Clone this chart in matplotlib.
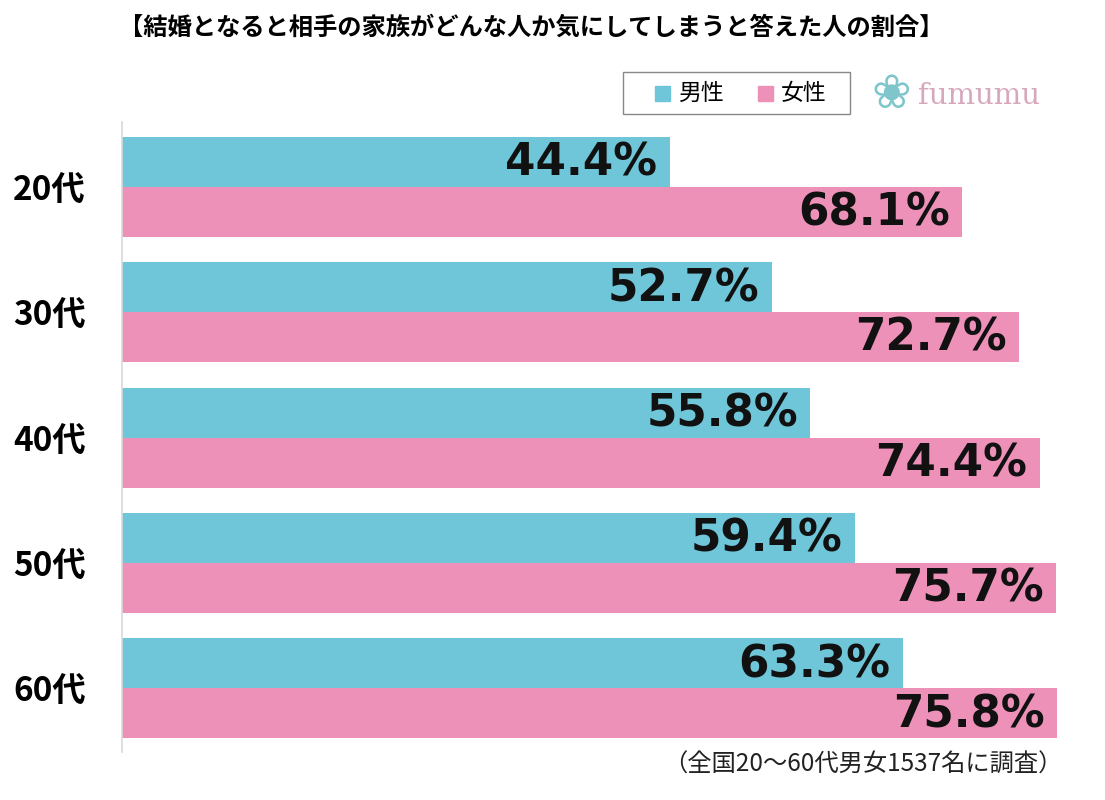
import numpy as np
import matplotlib.pyplot as plt
from matplotlib.patches import Rectangle

plt.rcParams['font.family'] = ['Noto Sans CJK JP', 'DejaVu Sans']

# データ
ages = ["20代", "30代", "40代", "50代", "60代"]
male = [44.4, 52.7, 55.8, 59.4, 63.3]
female = [68.1, 72.7, 74.4, 75.7, 75.8]
series_names = ["男性", "女性"]
title = "【結婚となると相手の家族がどんな人か気にしてしまうと答えた人の割合】"
note = "（全国20～60代男女1537名に調査）"

c_male = "#6fc6d9"
c_female = "#ee91b9"

fig = plt.figure(figsize=(11.05, 8), dpi=100)
ax = fig.add_axes([122 / 1105, 1 - 752 / 800, (1100 - 122) / 1105, (752 - 122) / 800])

y = np.arange(len(ages))
h = 0.398
ax.barh(y - h / 2, male, height=h, color=c_male)
ax.barh(y + h / 2, female, height=h, color=c_female)

for i in range(len(ages)):
    ax.text(male[i] - 1.0, y[i] - h / 2 + 0.01, f"{male[i]:.1f}%", ha="right", va="center",
            fontsize=31.5, fontweight="bold", color="#111111", family="DejaVu Sans")
    ax.text(female[i] - 1.0, y[i] + h / 2 + 0.01, f"{female[i]:.1f}%", ha="right", va="center",
            fontsize=31.5, fontweight="bold", color="#111111", family="DejaVu Sans")

ax.set_xlim(0, 79.3)
ax.set_ylim(4.508, -0.518)
ax.set_yticks(y)
ax.set_yticklabels(ages, fontsize=24, fontweight="bold")
ax.tick_params(axis="y", length=0, pad=26)
ax.set_xticks([])
for s in ["top", "right", "bottom"]:
    ax.spines[s].set_visible(False)
ax.spines["left"].set_color("#d9d9d9")
ax.spines["left"].set_linewidth(1.2)

fig.text(531 / 1105, 1 - 28 / 800, title, ha="center", va="center",
         fontsize=17.5, fontweight="bold")

# 凡例
fig.patches.append(Rectangle((623 / 1105, 1 - 114 / 800), 227 / 1105, 42 / 800,
                             transform=fig.transFigure, fill=False,
                             edgecolor="#888888", linewidth=1))
fig.patches.append(Rectangle((655 / 1105, 1 - 101 / 800), 15 / 1105, 15 / 800,
                             transform=fig.transFigure, color=c_male))
fig.text(678 / 1105, 1 - 93 / 800, series_names[0], ha="left", va="center", fontsize=16.5)
fig.patches.append(Rectangle((758 / 1105, 1 - 101 / 800), 15 / 1105, 15 / 800,
                             transform=fig.transFigure, color=c_female))
fig.text(781 / 1105, 1 - 93 / 800, series_names[1], ha="left", va="center", fontsize=16.5)

# ロゴ
fig.text(891 / 1105, 1 - 95 / 800, "❀", ha="center", va="center", fontsize=34,
         color="#7fc6cc", family="DejaVu Sans")
fig.text(918 / 1105, 1 - 96 / 800, "fumumu", ha="left", va="center", fontsize=21,
         color="#d6a7bd", family="DejaVu Serif")

fig.text(1062 / 1105, 1 - 765 / 800, note, ha="right", va="center", fontsize=17.5,
         color="#222222")

fig.savefig("out.png", dpi=100, facecolor="white")
